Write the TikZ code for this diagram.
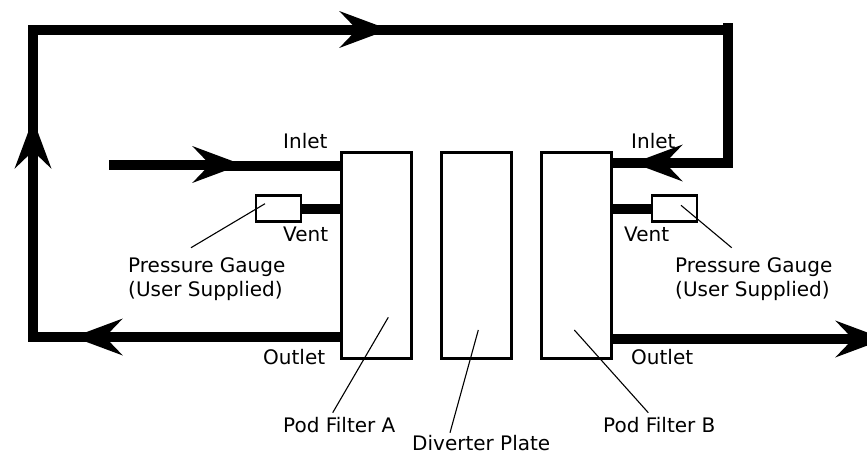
\documentclass[tikz,border=0pt]{standalone}
\usepackage{fontspec}
\setmainfont{DejaVu Sans}
\usetikzlibrary{arrows.meta}
\tikzset{
  pipe/.style={line width=10pt,line cap=butt,line join=miter},
  flow/.style={pipe,-{Stealth[length=49pt,width=36pt,inset=17pt]}},
  leader/.style={line width=1.1pt},
  unit/.style={draw,line width=3pt,fill=white,minimum width=70pt,minimum height=206pt,inner sep=0pt},
  gauge/.style={draw,line width=2.6pt,fill=white,minimum width=45pt,minimum height=26pt,inner sep=0pt},
  lab/.style={anchor=base west,inner sep=0pt,font=\fontsize{20pt}{24pt}\selectfont}
}
\begin{document}
\begin{tikzpicture}[x=1pt,y=-1pt]
\useasboundingbox (0,0) rectangle (867,455);
% units
\node[unit] (podA) at (376.5,255) {};
\node[unit] (plate) at (476.5,255) {};
\node[unit] (podB) at (576.5,255) {};
\node[gauge] (gaugeL) at (278.5,208.5) {};
\node[gauge] (gaugeR) at (674.5,208.5) {};
% labels
\node[lab] (inletL) at (283,148) {Inlet};
\node[lab] (ventL) at (283,241) {Vent};
\node[lab] (pgL) at (128,272) {Pressure Gauge};
\node[lab] (usL) at (128,296) {(User Supplied)};
\node[lab] (outL) at (263,364) {Outlet};
\node[lab] (nameA) at (283,432) {Pod Filter A};
\node[lab] (namePlate) at (412,450) {Diverter Plate};
\node[lab] (nameB) at (603,432) {Pod Filter B};
\node[lab] (inletR) at (631,148) {Inlet};
\node[lab] (ventR) at (624,241) {Vent};
\node[lab] (pgR) at (675,272) {Pressure Gauge};
\node[lab] (usR) at (675,296) {(User Supplied)};
\node[lab] (outR) at (631,364) {Outlet};
% coordinates of the pipe run
\coordinate (feedStart) at (109,164.5);
\coordinate (feedTip) at (242,164.5);
\coordinate (feedJoin) at (217,166);
\coordinate (outATip) at (73,337);
\coordinate (outACorner) at (33,337);
\coordinate (upTip) at (33,119);
\coordinate (topLeft) at (33,29.5);
\coordinate (topTip) at (389,29.5);
\coordinate (topRight) at (728,29.5);
\coordinate (rightTop) at (728,23);
\coordinate (rightCorner) at (728,163);
\coordinate (inRTip) at (633,163);
\coordinate (outBTip) at (885,339);
% pipes
\draw[flow] (feedStart) -- (feedTip);
\draw[pipe] (feedJoin) -- (podA.west |- feedJoin);
\draw[pipe] (gaugeL.east) -- (podA.west |- gaugeL.east);
\draw[pipe] (gaugeR.west) -- (podB.east |- gaugeR.west);
\draw[flow] (podA.west |- outATip) -- (outATip);
\draw[flow] ([xshift=25pt]outATip) -- (outACorner) -- (upTip);
\draw[flow] ([yshift=-25pt]upTip) -- (topLeft) -- (topTip);
\draw[pipe] ([xshift=-25pt]topTip) -- (topRight);
\draw[flow] (rightTop) -- (rightCorner) -- (inRTip);
\draw[pipe] ([xshift=25pt]inRTip) -- (podB.east |- inRTip);
\draw[flow] (podB.east |- outBTip) -- (outBTip);
% leaders
\coordinate (lgL1) at (265,203.7);
\coordinate (lgL2) at (191,247.7);
\coordinate (lgR1) at (681,205.3);
\coordinate (lgR2) at (731.7,247.7);
\coordinate (lA1) at (388.3,317.3);
\coordinate (lA2) at (332.7,412.7);
\coordinate (lP1) at (478.3,330);
\coordinate (lP2) at (450,432.7);
\coordinate (lB1) at (574.3,330);
\coordinate (lB2) at (648.3,412.7);
\draw[leader] (lgL1) -- (lgL2);
\draw[leader] (lgR1) -- (lgR2);
\draw[leader] (lA1) -- (lA2);
\draw[leader] (lP1) -- (lP2);
\draw[leader] (lB1) -- (lB2);
\end{tikzpicture}
\end{document}
